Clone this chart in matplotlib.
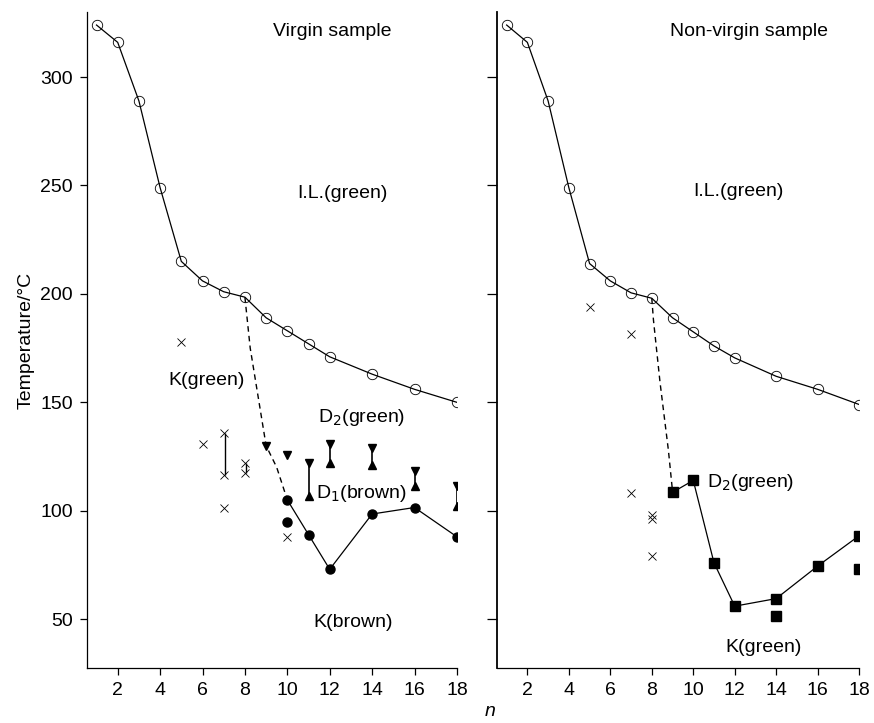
import matplotlib
matplotlib.use("Agg")
from matplotlib import pyplot as plt

plt.rcParams["font.family"] = ["Liberation Sans", "DejaVu Sans"]
FS = 14

# ---- virgin sample ----
n_il = [1, 2, 3, 4, 5, 6, 7, 8, 9, 10, 11, 12, 14, 16, 18]
il_virgin = [324, 316, 289, 249, 215, 206, 201, 198.5, 189, 183, 177, 171, 163, 156, 150]

# dashed guide from I.L. down to the D/K branches
guide_virgin_n = [8, 8.25, 8.5, 8.75, 9, 9.5, 10]
guide_virgin_t = [198.5, 175, 160, 145, 130, 120, 105]

d2_single_n = [9, 10]
d2_single_t = [130, 125.5]
d_bar_n = [11, 12, 14, 16, 18]
d_bar_hi = [122, 131, 129, 118.5, 111.5]
d_bar_lo = [107, 122, 121, 111.5, 102]

kb_line_n = [10, 11, 12, 14, 16, 18]
kb_line_t = [105, 89, 73, 98.5, 101.5, 88]
kb_extra_n = [10]
kb_extra_t = [95]

kg_virgin_n = [5, 6, 7, 7, 7, 8, 8, 10]
kg_virgin_t = [178, 131, 136, 116.5, 101.5, 122, 117.5, 88]
kg_bar_n = [7.05, 8.05]
kg_bar_hi = [136, 122]
kg_bar_lo = [116.5, 117.5]

# ---- non-virgin sample ----
il_nonvirgin = [324, 316, 289, 249, 214, 206, 200.5, 198, 189, 182.5, 176, 170.5, 162, 156, 149]

guide_nv_n = [8, 8.08, 8.4, 8.8, 9]
guide_nv_t = [198, 188, 159, 128, 109]

d2_nv_n = [9, 10, 11, 12, 14, 16, 18]
d2_nv_t = [108.5, 114, 76, 56, 59.5, 74.5, 88.5]
sq_extra_n = [14, 18]
sq_extra_t = [51.5, 73]

kg_nv_n = [5, 7, 7, 8, 8, 8]
kg_nv_t = [194, 181.5, 108, 98, 96, 79]

yticks = [50, 100, 150, 200, 250, 300]
xticks = [2, 4, 6, 8, 10, 12, 14, 16, 18]

fig = plt.figure(figsize=(8.74, 7.23), dpi=100)
ax1 = fig.add_axes([0.0995, 0.0761, 0.4233, 0.9073])
ax2 = fig.add_axes([0.5690, 0.0761, 0.4140, 0.9073])

for ax in (ax1, ax2):
    ax.set_xlim(0.55, 18.0)
    ax.set_ylim(27.5, 330)
    ax.set_xticks(xticks)
    ax.set_yticks(yticks)
    for s in ("top", "right"):
        ax.spines[s].set_visible(False)
    ax.spines["left"].set_linewidth(0.9)
    ax.spines["bottom"].set_linewidth(0.9)
    ax.tick_params(direction="out", length=5, width=0.9, labelsize=FS, pad=5)

ax2.tick_params(axis="y", labelleft=False, length=7)
ax2.spines["left"].set_linewidth(1.3)

lw = 0.9
# virgin
ax1.plot(n_il, il_virgin, color="black", lw=lw, marker="o", ms=7.5, mfc="none", mew=0.6)
ax1.plot(guide_virgin_n, guide_virgin_t, color="black", lw=1, ls=(0, (4, 3)))
ax1.plot(d2_single_n, d2_single_t, ls="none", marker="v", ms=6, color="black")
ax1.vlines(d_bar_n, d_bar_lo, d_bar_hi, color="black", lw=1.2)
ax1.plot(d_bar_n, d_bar_hi, ls="none", marker="v", ms=6, color="black")
ax1.plot(d_bar_n, d_bar_lo, ls="none", marker="^", ms=6, color="black")
ax1.plot(kb_line_n, kb_line_t, color="black", lw=lw, marker="o", ms=6.5)
ax1.plot(kb_extra_n, kb_extra_t, ls="none", marker="o", ms=6.5, color="black")
ax1.plot(kg_virgin_n, kg_virgin_t, ls="none", marker="x", ms=6, mew=0.6, color="black")
ax1.vlines(kg_bar_n, kg_bar_lo, kg_bar_hi, color="black", lw=1)

ax1.text(12.1, 320.8, "Virgin sample", fontsize=FS, ha="center", va="center")
ax1.text(12.6, 246.4, "I.L.(green)", fontsize=FS, ha="center", va="center")
ax1.text(6.2, 160, "K(green)", fontsize=FS, ha="center", va="center")
ax1.text(13.5, 143, "D$_2$(green)", fontsize=FS, ha="center", va="center")
ax1.text(13.5, 108, "D$_1$(brown)", fontsize=FS, ha="center", va="center")
ax1.text(13.1, 48.6, "K(brown)", fontsize=FS, ha="center", va="center")
ax1.set_ylabel("Temperature/°C", fontsize=FS, labelpad=4)

# non-virgin
ax2.plot(n_il, il_nonvirgin, color="black", lw=lw, marker="o", ms=7.5, mfc="none", mew=0.6)
ax2.plot(guide_nv_n, guide_nv_t, color="black", lw=1, ls=(0, (4, 3)))
ax2.plot(d2_nv_n, d2_nv_t, color="black", lw=lw, marker="s", ms=7)
ax2.plot(sq_extra_n, sq_extra_t, ls="none", marker="s", ms=7, color="black")
ax2.plot(kg_nv_n, kg_nv_t, ls="none", marker="x", ms=6, mew=0.6, color="black")

ax2.text(12.7, 320.8, "Non-virgin sample", fontsize=FS, ha="center", va="center")
ax2.text(12.2, 247, "I.L.(green)", fontsize=FS, ha="center", va="center")
ax2.text(10.65, 113, "D$_2$(green)", fontsize=FS, ha="left", va="center")
ax2.text(13.4, 37, "K(green)", fontsize=FS, ha="center", va="center")

fig.text(490 / 874, 1 - 712 / 723, "n", fontsize=FS, style="italic", ha="center", va="center")

fig.savefig("out.png", dpi=100)
